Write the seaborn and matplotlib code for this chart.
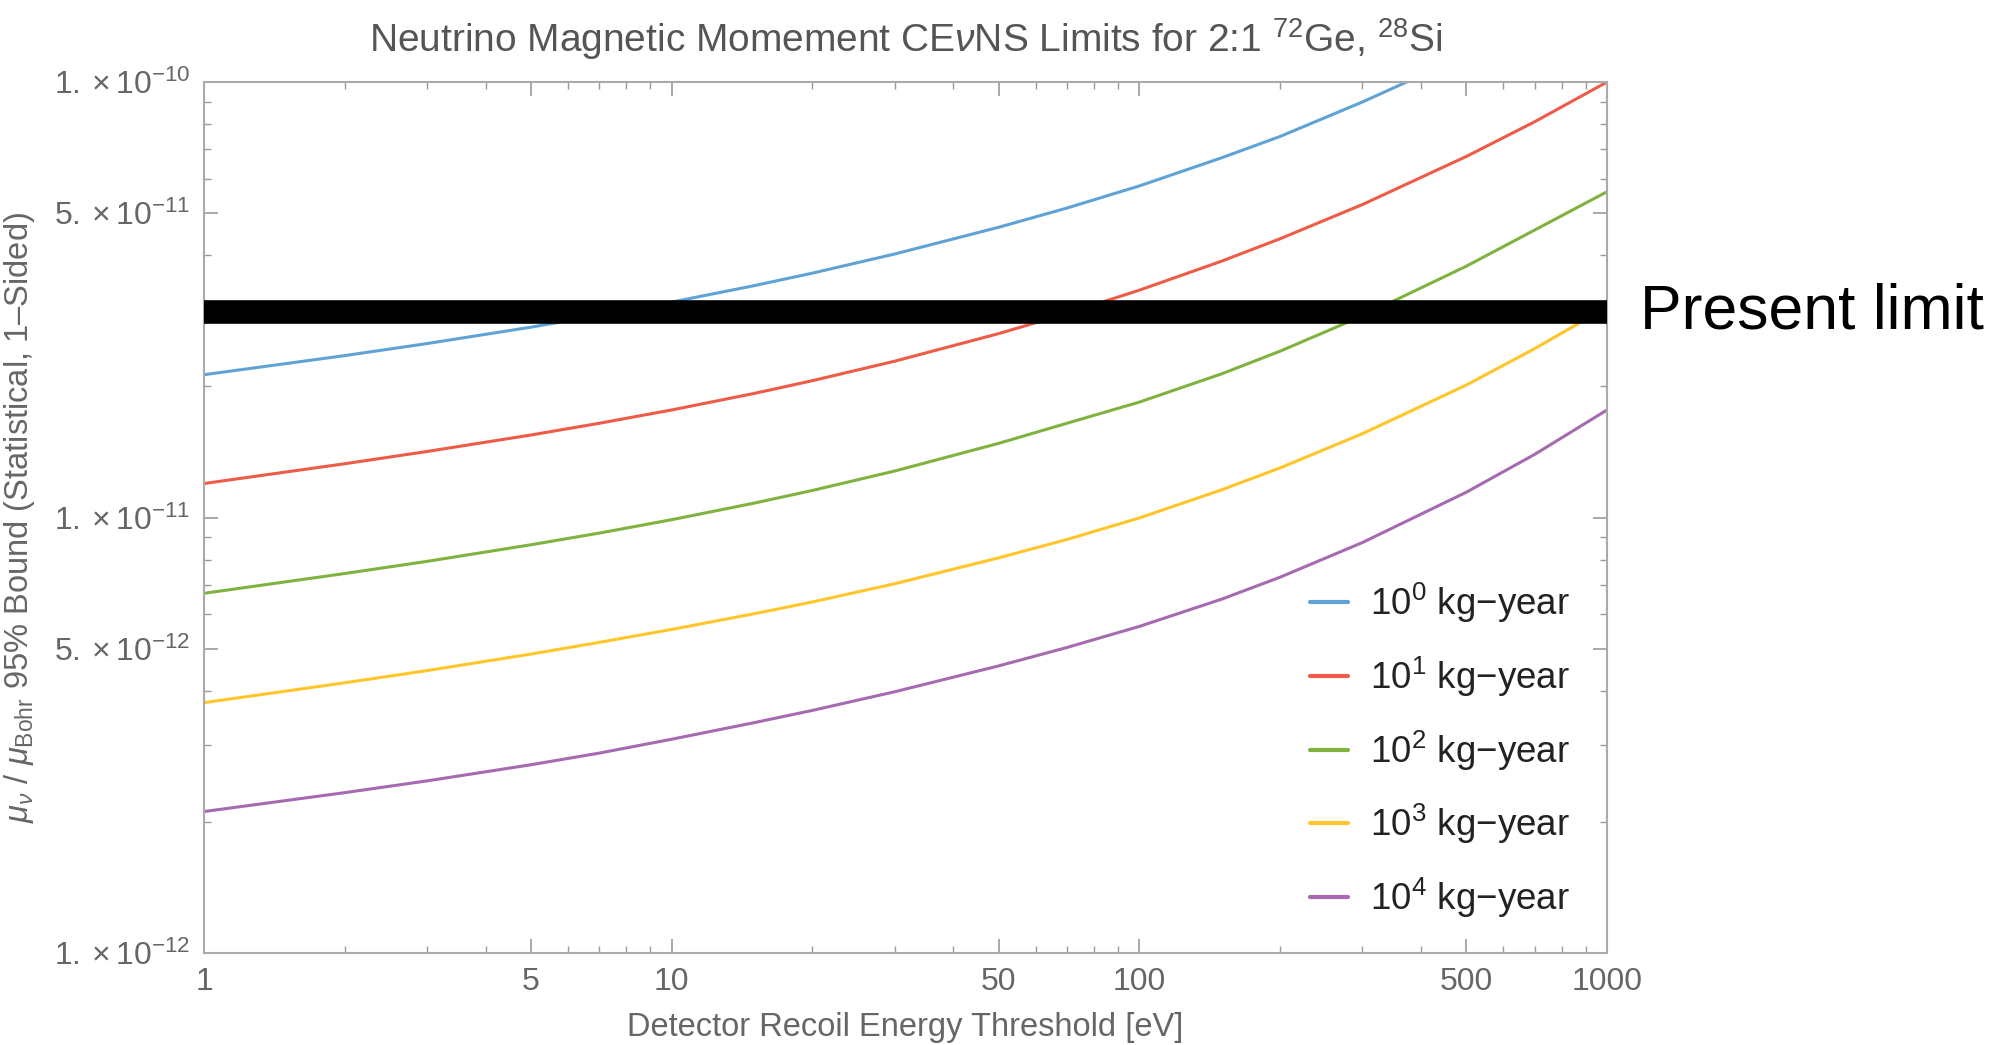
import numpy as np
import pandas as pd
import matplotlib
matplotlib.use('Agg')
import matplotlib.pyplot as plt
import matplotlib.ticker as mticker
import seaborn as sns

## data (threshold in eV, bound in mu_Bohr)
x_blue = [1, 2, 3, 5, 7, 10, 15, 20, 30, 50, 70, 100, 150, 200, 300, 450]
y_blue = [2.128e-11, 2.354e-11, 2.509e-11, 2.736e-11, 2.912e-11, 3.124e-11, 3.407e-11, 3.641e-11,
          4.029e-11, 4.639e-11, 5.136e-11, 5.773e-11, 6.700e-11, 7.500e-11, 9.000e-11, 1.096e-10]

x_full = [1, 2, 3, 5, 7, 10, 15, 20, 30, 50, 70, 100, 150, 200, 300, 500, 700, 1000]
y_red = [1.197e-11, 1.329e-11, 1.418e-11, 1.547e-11, 1.646e-11, 1.766e-11, 1.927e-11, 2.062e-11,
         2.286e-11, 2.644e-11, 2.941e-11, 3.327e-11, 3.879e-11, 4.367e-11, 5.233e-11, 6.745e-11,
         8.103e-11, 1.000e-10]
y_green = [6.699e-12, 7.438e-12, 7.932e-12, 8.659e-12, 9.210e-12, 9.886e-12, 1.079e-11, 1.154e-11,
           1.279e-11, 1.480e-11, 1.646e-11, 1.841e-11, 2.138e-11, 2.410e-11, 2.904e-11, 3.776e-11,
           4.571e-11, 5.598e-11]
y_yellow = [3.758e-12, 4.174e-12, 4.452e-12, 4.858e-12, 5.168e-12, 5.534e-12, 6.012e-12, 6.400e-12,
            7.047e-12, 8.079e-12, 8.902e-12, 9.977e-12, 1.158e-11, 1.300e-11, 1.558e-11, 2.014e-11,
            2.442e-11, 3.041e-11]
y_purple = [2.113e-12, 2.335e-12, 2.485e-12, 2.706e-12, 2.878e-12, 3.097e-12, 3.380e-12, 3.607e-12,
            3.981e-12, 4.563e-12, 5.030e-12, 5.623e-12, 6.495e-12, 7.295e-12, 8.763e-12, 1.143e-11,
            1.396e-11, 1.766e-11]

present_limit = 2.97e-11

labels = [r'$10^{0}$ kg$-$year', r'$10^{1}$ kg$-$year', r'$10^{2}$ kg$-$year',
          r'$10^{3}$ kg$-$year', r'$10^{4}$ kg$-$year']
colors = ['#5FA2D6', '#EE5B47', '#80B23F', '#FFC529', '#A66AB0']

x_ticks = [1, 5, 10, 50, 100, 500, 1000]
x_ticklabels = ['1', '5', '10', '50', '100', '500', '1000']
y_ticks = [1e-12, 5e-12, 1e-11, 5e-11, 1e-10]
y_ticklabels = [r'$1.\times10^{-12}$', r'$5.\times10^{-12}$', r'$1.\times10^{-11}$',
                r'$5.\times10^{-11}$', r'$1.\times10^{-10}$']

# long-form table for seaborn
series = [(x_blue, y_blue), (x_full, y_red), (x_full, y_green), (x_full, y_yellow), (x_full, y_purple)]
frames = []
for lab, (xs, ys) in zip(labels, series):
    frames.append(pd.DataFrame({'threshold': xs, 'bound': ys, 'exposure': lab}))
df = pd.concat(frames, ignore_index=True)

sns.set_style('ticks')
plt.rcParams['font.family'] = ['Liberation Sans', 'DejaVu Sans']
plt.rcParams['mathtext.fontset'] = 'custom'
plt.rcParams['mathtext.rm'] = 'Liberation Sans'
plt.rcParams['mathtext.it'] = 'Liberation Sans:italic'
plt.rcParams['mathtext.bf'] = 'Liberation Sans:bold'

fig, ax = plt.subplots(figsize=(20.04, 10.45), dpi=100)
fig.subplots_adjust(left=0.1018, right=0.8019, top=0.9215, bottom=0.088)

sns.lineplot(data=df, x='threshold', y='bound', hue='exposure', hue_order=labels,
             palette=dict(zip(labels, colors)), linewidth=2.2, ax=ax, sort=True)

# present experimental limit
ax.axhline(present_limit, color='black', linewidth=17, zorder=5, solid_capstyle='butt')
ax.text(1.0235, present_limit, 'Present limit', transform=ax.get_yaxis_transform(),
        fontsize=45, color='black', va='center', ha='left')

ax.set_xscale('log')
ax.set_yscale('log')
ax.set_xlim(1, 1000)
ax.set_ylim(1e-12, 1e-10)

gray = '#666666'
ax.set_xticks(x_ticks)
ax.set_xticklabels(x_ticklabels)
ax.set_yticks(y_ticks)
ax.set_yticklabels(y_ticklabels)
ax.xaxis.set_minor_locator(mticker.LogLocator(base=10, subs=(2, 3, 4, 6, 7, 8, 9)))
ax.yaxis.set_minor_locator(mticker.LogLocator(base=10, subs=(2, 3, 4, 6, 7, 8, 9)))
ax.xaxis.set_minor_formatter(mticker.NullFormatter())
ax.yaxis.set_minor_formatter(mticker.NullFormatter())
ax.tick_params(which='both', direction='in', top=True, right=True, color='#999999',
               labelcolor=gray, labelsize=23)
ax.tick_params(which='major', length=10, width=1.2, pad=10)
ax.tick_params(which='minor', length=5, width=1.0)
for sp in ax.spines.values():
    sp.set_color('#aaaaaa')
    sp.set_linewidth(1.5)

ax.set_title(r'Neutrino Magnetic Momement CE$\nu$NS Limits for 2:1 $^{72}$Ge, $^{28}$Si',
             fontsize=28, color='#555555', pad=22)
ax.set_xlabel('Detector Recoil Energy Threshold [eV]', fontsize=23.5, color=gray, labelpad=11)
ax.set_ylabel(r'$\mu_\nu\ /\ \mu_{\mathrm{Bohr}}$ 95% Bound (Statistical, 1–Sided)',
              fontsize=23.5, color=gray, labelpad=12)

leg = ax.legend(loc='upper left', bbox_to_anchor=(0.788, 0.427), frameon=False, fontsize=26.5,
                handlelength=1.05, handletextpad=0.6, labelspacing=0.8,
                borderpad=0, borderaxespad=0)
for t in leg.get_texts():
    t.set_color('#222222')
for h in leg.get_lines():
    h.set_linewidth(3)

plt.savefig('out.png', dpi=100)
